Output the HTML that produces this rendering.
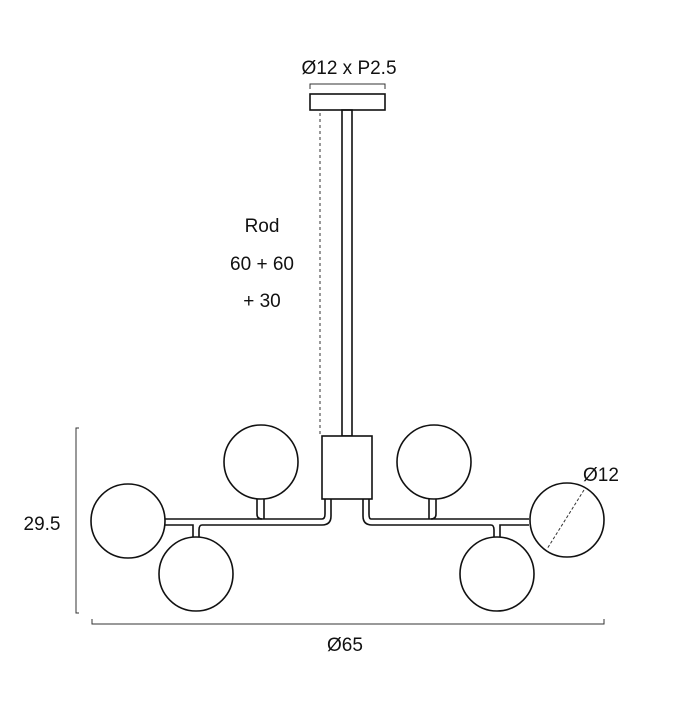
<!DOCTYPE html>
<html><head><style>body{margin:0;background:#fff}</style></head><body>
<svg width="700" height="700" viewBox="0 0 700 700" xmlns="http://www.w3.org/2000/svg" style="font-family:'Liberation Sans',sans-serif">
<g fill="none" stroke="#111" stroke-width="1.6">
<rect x="310" y="94" width="75" height="16" fill="#fff"/>
<rect x="342" y="110" width="10" height="326"/>
<rect x="322" y="436" width="50" height="63" fill="#fff"/>
<!-- left arm -->
<path d="M165 519 H322 Q325 519 325 514 V499 M331 499 V516 Q331 525 322 525 H202 Q199 525 199 530 V538 M193 538 V525 H165"/>
<path d="M257 499 V514 Q257 519 262 519 M264 499 V519"/>
<!-- right arm -->
<path d="M529 519 H371 Q369 519 369 514 V499 M363 499 V516 Q363 525 372 525 H491 Q494 525 494 530 V538 M500 538 V525 H529"/>
<path d="M436 499 V514 Q436 519 431 519 M429 499 V519"/>
<circle cx="261" cy="462" r="37" fill="#fff"/>
<circle cx="434" cy="462" r="37" fill="#fff"/>
<circle cx="196" cy="574" r="37" fill="#fff"/>
<circle cx="497" cy="574" r="37" fill="#fff"/>
<circle cx="128" cy="521" r="37" fill="#fff"/>
<circle cx="567" cy="520" r="37" fill="#fff"/>
</g>
<g stroke="#333" stroke-width="1" fill="none">
<path d="M310 89 V84 H385 V89"/>
<path d="M320 113 V435" stroke-dasharray="3,3"/>
<path d="M79 428 H76 V613 H79"/>
<path d="M92 619 V624 H604 V619"/>
<path d="M584 490 L547 549" stroke-dasharray="3,2"/>
</g>
<g fill="#111" font-size="19" text-anchor="middle">
<text x="349" y="74">Ø12 x P2.5</text>
<text x="262" y="232">Rod</text>
<text x="262" y="270">60 + 60</text>
<text x="262" y="307">+ 30</text>
<text x="42" y="530">29.5</text>
<text x="345" y="651">Ø65</text>
<text x="601" y="481">Ø12</text>
</g>
</svg>
</body></html>
